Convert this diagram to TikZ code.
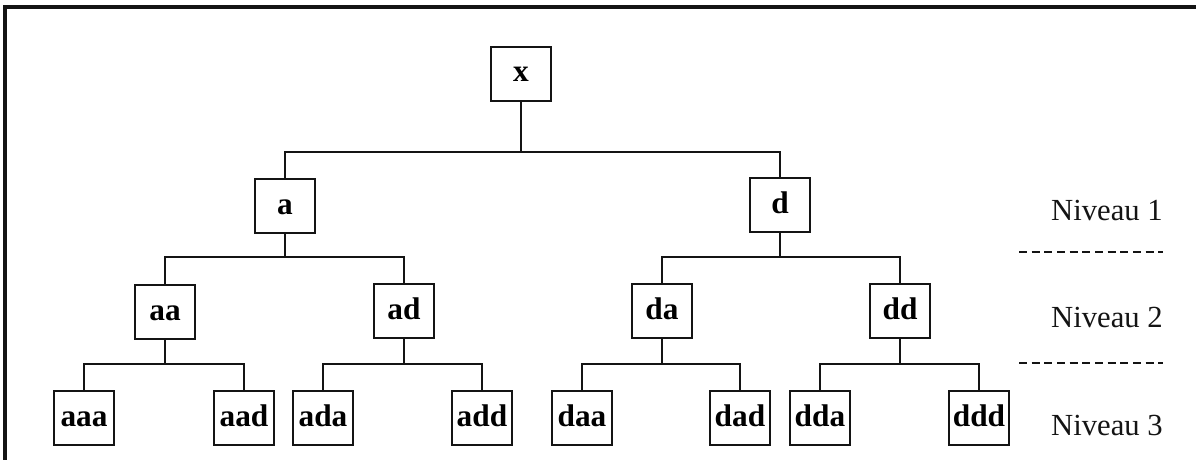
\documentclass[tikz,border=0pt]{standalone}
\usepackage{fontspec}
\setmainfont{Liberation Serif}
\begin{document}
\begin{tikzpicture}[x=0.75pt,y=-0.75pt,
  ink/.style={draw=black!92},
  cell/.style={ink, line width=1.7pt, minimum width=45pt, minimum height=40.5pt,
    inner sep=0pt, text height=15pt, text depth=3pt,
    font=\fontsize{23.5}{27}\selectfont\bfseries},
  link/.style={ink, line width=1.6pt},
  level/.style={font=\fontsize{23}{27}\selectfont, text=black!92},
  sep/.style={ink, line width=1.3pt, dash pattern=on 6pt off 3.5pt}]
\useasboundingbox (0,0) rectangle (1196,460);
\fill[white] (0,0) rectangle (1196,460);
% frame
\draw[ink, line width=2.4pt] (5,461) -- (5,7) -- (1197,7);

% tree nodes
\node[cell] (x) at (521,74) {x};
\node[cell] (a) at (285,206) {a};
\node[cell] (d) at (780,205) {d};
\node[cell] (aa) at (165,312) {aa};
\node[cell] (ad) at (404,311) {ad};
\node[cell] (da) at (662,311) {da};
\node[cell] (dd) at (900,311) {dd};
\node[cell] (aaa) at (84,418) {aaa};
\node[cell] (aad) at (244,418) {aad};
\node[cell] (ada) at (323,418) {ada};
\node[cell] (add) at (482,418) {add};
\node[cell] (daa) at (582,418) {daa};
\node[cell] (dad) at (740,418) {dad};
\node[cell] (dda) at (820,418) {dda};
\node[cell] (ddd) at (979,418) {ddd};

% heights of the branching bars
\coordinate (b0) at (0,152);
\coordinate (b1) at (0,257);
\coordinate (b2) at (0,364);

% branches
\foreach \p/\c in {x/a, x/d}
  \draw[link] (\p.south) |- (\c.north |- b0) -- (\c.north);
\foreach \p/\c in {a/aa, a/ad, d/da, d/dd}
  \draw[link] (\p.south) |- (\c.north |- b1) -- (\c.north);
\foreach \p/\c in {aa/aaa, aa/aad, ad/ada, ad/add, da/daa, da/dad, dd/dda, dd/ddd}
  \draw[link] (\p.south) |- (\c.north |- b2) -- (\c.north);

% level labels and separators
\node[level] (n1) at (1107,210) {Niveau 1};
\node[level] (n2) at (1107,317) {Niveau 2};
\node[level] (n3) at (1107,425) {Niveau 3};
\coordinate (s1l) at (1019,252);
\coordinate (s1r) at (1163,252);
\coordinate (s2l) at (1019,363);
\coordinate (s2r) at (1163,363);
\draw[sep] (s1l) -- (s1r);
\draw[sep] (s2l) -- (s2r);
\end{tikzpicture}
\end{document}
